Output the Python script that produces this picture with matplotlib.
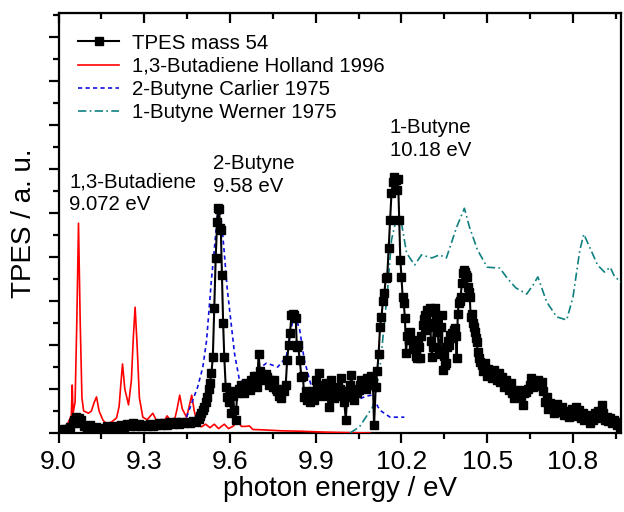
##############
#Dependencies
##############
import matplotlib
matplotlib.use('Agg')
import matplotlib.pyplot as plt
from matplotlib.ticker import MultipleLocator, NullFormatter

#################
#Data
#################
# TPES mass 54 (photon energy / eV, signal / a.u.)
tpes_e = [9.00, 9.01, 9.02, 9.03, 9.04, 9.05, 9.055, 9.06, 9.065, 9.07, 9.075, 9.08, 9.09,
          9.10, 9.11, 9.12, 9.13, 9.14, 9.15, 9.16, 9.17, 9.18, 9.19, 9.20, 9.21, 9.22, 9.23,
          9.24, 9.25, 9.26, 9.27, 9.28, 9.29, 9.30, 9.31, 9.32, 9.33, 9.34, 9.35, 9.36, 9.37,
          9.38, 9.39, 9.40, 9.41, 9.42, 9.43, 9.44, 9.45, 9.46, 9.47, 9.48, 9.49,
          9.495, 9.50, 9.505, 9.51, 9.515, 9.52, 9.525, 9.53, 9.535, 9.54, 9.545, 9.55, 9.555,
          9.558, 9.562, 9.565, 9.568, 9.572, 9.576, 9.58, 9.585, 9.59, 9.595, 9.60, 9.605, 9.61,
          9.615, 9.62, 9.625,
          9.63, 9.635, 9.64, 9.645, 9.65, 9.655, 9.66, 9.665, 9.67, 9.675, 9.68, 9.685, 9.69,
          9.695, 9.70, 9.705, 9.71, 9.715, 9.72, 9.725, 9.73, 9.735, 9.74, 9.745, 9.75, 9.755,
          9.76, 9.765, 9.77, 9.775, 9.78, 9.785, 9.79, 9.795, 9.80,
          9.805, 9.81, 9.815, 9.82, 9.825, 9.83, 9.834, 9.838, 9.844, 9.85, 9.855, 9.86, 9.865, 9.87,
          9.875, 9.88, 9.885, 9.89, 9.895, 9.90, 9.905, 9.91, 9.915, 9.92, 9.925, 9.93, 9.935,
          9.94, 9.945, 9.95, 9.955, 9.96, 9.965, 9.97, 9.975, 9.98, 9.985, 9.99, 9.995, 10.00,
          10.005, 10.01, 10.015, 10.02, 10.025, 10.03, 10.035, 10.04, 10.045, 10.05, 10.055,
          10.06, 10.065, 10.07, 10.075, 10.08, 10.085, 10.09, 10.095, 10.10, 10.104, 10.11, 10.115,
          10.12, 10.125, 10.13, 10.135, 10.14, 10.145, 10.15, 10.155, 10.16, 10.165, 10.17,
          10.175, 10.18, 10.185, 10.188, 10.192, 10.196, 10.20, 10.204, 10.208, 10.212, 10.216,
          10.22, 10.225,
          10.23, 10.236, 10.241, 10.246, 10.25, 10.253, 10.257, 10.26, 10.264, 10.269, 10.274,
          10.278, 10.281, 10.285, 10.288, 10.292, 10.296, 10.299, 10.303, 10.306, 10.309, 10.313,
          10.316, 10.32, 10.324, 10.327, 10.331, 10.334, 10.338, 10.341, 10.344, 10.348, 10.352,
          10.355, 10.358, 10.362, 10.366, 10.369, 10.373, 10.376, 10.379, 10.383, 10.386, 10.39,
          10.393, 10.397, 10.40, 10.404, 10.407, 10.411, 10.414, 10.418, 10.421, 10.425, 10.428,
          10.432, 10.435, 10.439, 10.442, 10.446, 10.449, 10.453, 10.456, 10.46, 10.463, 10.467,
          10.471, 10.474,
          10.480, 10.486, 10.492, 10.498, 10.504, 10.510, 10.516, 10.522, 10.528, 10.534, 10.540,
          10.546, 10.552, 10.558, 10.564, 10.570, 10.576, 10.582, 10.588, 10.594, 10.600, 10.606,
          10.612, 10.618, 10.624, 10.630, 10.636, 10.642, 10.648, 10.654, 10.660, 10.666, 10.672,
          10.678, 10.684, 10.690, 10.696, 10.702, 10.708, 10.714, 10.720, 10.726, 10.732, 10.738,
          10.744, 10.750, 10.756, 10.762, 10.768, 10.774, 10.780, 10.786, 10.792, 10.798, 10.804,
          10.810, 10.816, 10.822, 10.828, 10.834, 10.840, 10.846, 10.852, 10.858, 10.864, 10.870,
          10.876, 10.882, 10.888, 10.894, 10.900, 10.906, 10.912, 10.918, 10.924, 10.930, 10.936,
          10.942, 10.948, 10.954, 10.960, 10.966, 10.972]
tpes_v = [0.04, 0.06, 0.08, 0.10, 0.14, 0.22, 0.30, 0.36, 0.28, 0.34, 0.22, 0.30, 0.16,
          0.12, 0.18, 0.10, 0.14, 0.08, 0.12, 0.10, 0.15, 0.10, 0.13, 0.16, 0.12, 0.18, 0.14,
          0.20, 0.15, 0.22, 0.17, 0.20, 0.15, 0.19, 0.16, 0.21, 0.17, 0.19, 0.22, 0.18, 0.23,
          0.19, 0.24, 0.20, 0.25, 0.21, 0.26, 0.22, 0.25, 0.23, 0.28, 0.26, 0.32,
          0.38, 0.45, 0.52, 0.60, 0.70, 0.82, 1.00, 1.14, 1.36, 1.73, 2.84, 3.98, 4.80,
          5.11, 5.10, 4.66, 4.61, 3.60, 2.50, 1.73, 1.05, 0.82, 0.70, 0.95, 0.45, 0.85,
          0.52, 0.30, 0.90,
          1.00, 0.95, 1.10, 1.05, 0.92, 1.14, 1.00, 1.08, 0.98, 1.20, 1.10, 1.30, 1.15,
          1.05, 1.80, 1.40, 1.25, 1.30, 1.20, 1.35, 1.27, 1.10, 1.20, 1.15, 1.05, 1.20,
          1.00, 0.95, 0.85, 0.98, 0.80, 1.00, 0.95, 1.10, 1.66,
          2.00, 2.27, 2.68, 2.70, 2.68, 2.61, 1.95, 2.00, 1.66, 1.27, 1.30, 0.82, 0.95, 0.75,
          0.80, 0.70, 0.90, 0.95, 0.75, 1.20, 1.05, 1.36, 0.90, 1.10, 0.85, 1.00, 1.14,
          0.95, 0.60, 1.05, 1.20, 0.90, 0.80, 0.90, 1.05, 0.85, 1.00, 1.25, 0.95, 0.70,
          0.30, 0.82, 0.95, 1.10, 1.32, 0.90, 0.75, 1.00, 0.90, 0.98, 1.10,
          1.20, 1.05, 1.14, 1.00, 1.25, 1.10, 1.20, 1.30, 1.15, 0.18, 1.05, 1.40,
          1.80, 2.41, 2.64, 3.00, 3.18, 3.52, 3.55, 4.20, 4.84, 5.45, 5.70,
          5.82, 5.75, 5.52, 5.78, 4.84, 3.93, 3.55, 3.09, 2.95, 2.61, 1.82,
          2.20, 2.11,
          2.30, 2.11, 1.90, 2.05, 1.75, 1.70, 2.07, 1.95, 1.70, 2.20, 2.45,
          2.60, 2.68, 2.35, 2.80, 2.50, 2.75, 2.84, 2.10, 1.73, 1.95, 2.40,
          2.84, 2.55, 2.64, 2.30, 1.80, 1.89, 2.40, 2.68, 1.43, 1.75, 1.55,
          1.59, 1.95, 2.10, 2.00, 2.22, 2.15, 2.27, 2.25, 2.35, 2.39, 2.20,
          1.70, 2.70, 2.95, 3.00, 3.09, 3.40, 3.64, 3.70, 3.66, 3.60, 3.55,
          3.32, 3.20, 3.09, 2.64, 2.70, 2.50, 2.40, 2.30, 2.15, 2.07, 1.84,
          1.70, 1.61,
          1.55, 1.40, 1.59, 1.30, 1.45, 1.39, 1.25, 1.43, 1.30, 1.20, 1.36,
          1.15, 1.28, 1.05, 1.20, 1.10, 0.98, 1.14, 0.90, 0.80, 0.95, 0.88,
          0.98, 0.85, 0.64, 0.90, 0.93, 1.00, 1.10, 1.25, 1.05, 1.14, 1.08,
          1.20, 1.10, 1.16, 0.95, 0.70, 0.82, 0.55, 0.68, 0.60, 0.45, 0.52,
          0.65, 0.48, 0.55, 0.60, 0.40, 0.50, 0.42, 0.36, 0.48, 0.55, 0.38,
          0.60, 0.45, 0.52, 0.35, 0.45, 0.30, 0.42, 0.35, 0.23, 0.38, 0.30,
          0.45, 0.35, 0.50, 0.40, 0.64, 0.45, 0.30, 0.36, 0.28, 0.35, 0.22,
          0.30, 0.25, 0.18, 0.22, 0.14, 0.20]

# 1,3-Butadiene Holland 1996
buta_e = [9.000, 9.020, 9.035, 9.045, 9.048, 9.051, 9.058, 9.064, 9.070, 9.076, 9.082, 9.088,
          9.095, 9.105, 9.115, 9.125, 9.133, 9.142, 9.155, 9.168, 9.185, 9.203, 9.212, 9.218,
          9.224, 9.232, 9.245, 9.255, 9.262, 9.268, 9.275, 9.283, 9.295, 9.310, 9.330, 9.345,
          9.354, 9.368, 9.380, 9.395, 9.406, 9.415, 9.424, 9.433, 9.448, 9.457, 9.466, 9.475,
          9.487, 9.500, 9.515, 9.530, 9.545, 9.560, 9.580, 9.595, 9.610, 9.627, 9.640, 9.655,
          9.668, 9.680, 9.720, 9.780, 9.850, 9.930, 10.000, 10.090]
buta_v = [0.03, 0.10, 0.25, 0.40, 1.09, 0.45, 0.70, 2.50, 4.77, 2.50, 0.80, 0.50,
          0.48, 0.45, 0.50, 0.70, 0.82, 0.50, 0.30, 0.20, 0.25, 0.34, 0.60, 1.10,
          1.57, 1.00, 0.64, 1.20, 2.20, 2.86, 2.00, 0.80, 0.36, 0.30, 0.45, 0.25,
          0.18, 0.25, 0.39, 0.25, 0.30, 0.55, 0.86, 0.55, 0.36, 0.60, 0.86, 0.50,
          0.18, 0.14, 0.20, 0.12, 0.20, 0.10, 0.20, 0.10, 0.15, 0.27, 0.15, 0.15,
          0.16, 0.08, 0.07, 0.05, 0.04, 0.02, 0.01, 0.00]

# 2-Butyne Carlier 1975
butyne2_e = [9.380, 9.420, 9.448, 9.470, 9.487, 9.505, 9.518, 9.535, 9.545, 9.555, 9.563,
             9.572, 9.580, 9.590, 9.600, 9.616, 9.633, 9.656, 9.686, 9.728, 9.767, 9.797,
             9.815, 9.826, 9.844, 9.860, 9.885, 9.924, 9.980, 10.043, 10.078, 10.096,
             10.124, 10.160, 10.210]
butyne2_v = [0.12, 0.22, 0.36, 0.75, 1.05, 1.50, 2.10, 3.48, 4.16, 4.90, 5.14,
             4.70, 4.10, 3.30, 2.72, 1.80, 1.20, 1.14, 1.39, 1.59, 1.50, 1.73,
             2.41, 2.72, 2.34, 1.66, 1.05, 0.82, 0.75, 0.75, 0.84, 0.86,
             0.52, 0.36, 0.36]

# 1-Butyne Werner 1975
butyne1_e = [10.020, 10.053, 10.100, 10.124, 10.140, 10.152, 10.165, 10.183, 10.200, 10.218,
             10.246, 10.270, 10.306, 10.333, 10.357, 10.393, 10.420, 10.438, 10.466, 10.500,
             10.544, 10.570, 10.600, 10.638, 10.660, 10.677, 10.708, 10.743, 10.778, 10.800,
             10.824, 10.838, 10.860, 10.886, 10.910, 10.930, 10.946, 10.970]
butyne1_v = [0.00, 0.14, 0.60, 1.43, 2.50, 3.32, 4.39, 4.90, 4.77, 4.09,
             3.82, 4.05, 3.98, 4.05, 3.98, 4.68, 5.11, 4.68, 4.16, 3.77,
             3.75, 3.52, 3.30, 3.16, 3.36, 3.55, 2.98, 2.64, 2.57, 3.09,
             4.16, 4.52, 4.20, 3.82, 3.66, 3.77, 3.55, 3.43]

x_ticks = [9.0, 9.3, 9.6, 9.9, 10.2, 10.5, 10.8]
labels = ['TPES mass 54', '1,3-Butadiene Holland 1996', '2-Butyne Carlier 1975',
          '1-Butyne Werner 1975']
notes = [(9.038, 5.45, '1,3-Butadiene\n9.072 eV'),
         (9.539, 5.86, '2-Butyne\n9.58 eV'),
         (10.159, 6.68, '1-Butyne\n10.18 eV')]

#################
#Methods
#################
def drawChart():
    plt.rcParams['font.family'] = ['Liberation Sans', 'DejaVu Sans']
    fig = plt.figure(figsize=(6.24, 5.12), dpi=100)
    ax = fig.add_axes([58.5 / 624, 1 - 433 / 512, (621 - 58.5) / 624, (433 - 13) / 512])

    ax.plot(tpes_e, tpes_v, color='black', lw=1.5, marker='s', ms=5.2,
            label=labels[0], zorder=5)
    ax.plot(buta_e, buta_v, color='red', lw=1.2, label=labels[1], zorder=3)
    ax.plot(butyne2_e, butyne2_v, color='#1010e0', lw=1.2, ls=(0, (2.5, 2)),
            label=labels[2], zorder=4)
    ax.plot(butyne1_e, butyne1_v, color='#108080', lw=1.2, ls=(0, (5, 2, 1, 2)),
            label=labels[3], zorder=4)

    for x, y, t in notes:
        ax.text(x, y, t, fontsize=14.7, ha='left', va='center', linespacing=1.25)

    ax.set_xlim(9.0, 10.968)
    ax.set_ylim(0, 9.55)
    ax.set_xticks(x_ticks)
    ax.xaxis.set_minor_locator(MultipleLocator(0.15))
    ax.yaxis.set_major_locator(MultipleLocator(1))
    ax.yaxis.set_minor_locator(MultipleLocator(0.5))
    ax.yaxis.set_major_formatter(NullFormatter())
    ax.set_xticklabels(['%.1f' % t for t in x_ticks])

    ax.tick_params(axis='x', which='both', direction='out', labelsize=19, width=1.6, pad=5)
    ax.tick_params(axis='x', which='major', length=7)
    ax.tick_params(axis='x', which='minor', length=4)
    ax.tick_params(axis='y', which='major', direction='out', length=7, width=1.6)
    ax.tick_params(axis='y', which='minor', direction='out', length=4, width=1.6)
    for s in ax.spines.values():
        s.set_linewidth(1.6)
    # ticks pointing inward on the top spine
    top = ax.secondary_xaxis('top')
    top.set_xticks(x_ticks)
    top.xaxis.set_minor_locator(MultipleLocator(0.15))
    top.tick_params(which='both', direction='in', width=1.6, labeltop=False)
    top.tick_params(which='major', length=7)
    top.tick_params(which='minor', length=4)

    ax.set_xlabel('photon energy / eV', fontsize=20, labelpad=2)
    ax.set_ylabel('TPES / a. u.', fontsize=20, labelpad=5)

    leg = ax.legend(loc='upper left', bbox_to_anchor=(0.01, 0.985), frameon=False,
                    fontsize=14.7, numpoints=1, handlelength=2.0, handletextpad=0.6,
                    labelspacing=0.2, borderaxespad=0.3)

    fig.savefig('out.png', dpi=100)

#####################
#main function
#####################
def main():
    drawChart()

if __name__ == '__main__':
    main()
